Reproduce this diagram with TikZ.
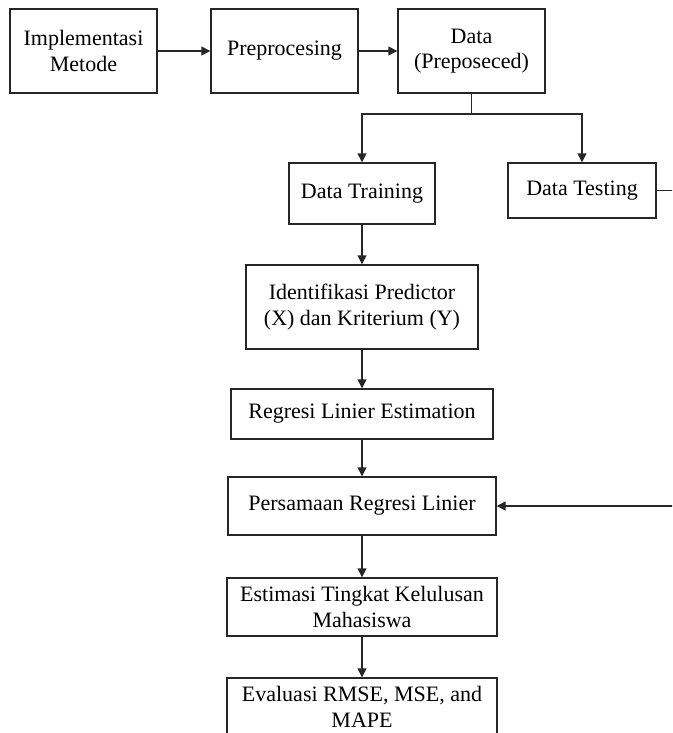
\documentclass[tikz,border=0pt]{standalone}
\usepackage{fontspec}
\setmainfont{Liberation Serif}
\usetikzlibrary{arrows.meta}
\begin{document}
\begin{tikzpicture}[x=1pt,y=-1pt,
  box/.style={draw=black!85, line width=1.4pt, align=center, inner sep=0pt,
              font=\fontsize{22}{25.5}\selectfont},
  arr/.style={draw=black!85, line width=1.4pt, -{Triangle[length=9pt,width=9pt]}},
  ln/.style={draw=black!85, line width=1.4pt}]
\useasboundingbox (0,0) rectangle (672,733);
\clip (0,0) rectangle (672,733);
\node[box, minimum width=147pt, minimum height=84pt] (impl) at (83.5,51) {Implementasi\\Metode};
\node[box, minimum width=147pt, minimum height=84pt] (prep) at (284.5,51) {Preprocesing};
\node[box, minimum width=147pt, minimum height=84pt] (data) at (471.5,51) {Data\\(Preposeced)};
\node[box, minimum width=146pt, minimum height=61pt] (train) at (362,193.5) {Data Training};
\node[box, minimum width=148pt, minimum height=55pt] (test) at (582,190.5) {Data Testing};
\node[box, minimum width=232pt, minimum height=84pt] (ident) at (362,307) {Identifikasi Predictor\\(X) dan Kriterium (Y)};
\node[box, minimum width=262pt, minimum height=50pt] (rle) at (362,414) {Regresi Linier Estimation};
\node[box, minimum width=268pt, minimum height=58pt] (pers) at (362,506) {Persamaan Regresi Linier};
\node[box, minimum width=270pt, minimum height=58pt] (est) at (362,607) {Estimasi Tingkat Kelulusan\\Mahasiswa};
\node[box, minimum width=270pt, minimum height=58pt] (eval) at (362,707) {Evaluasi RMSE, MSE, and\\MAPE};
\coordinate (br) at (471.5,114);
\draw[arr] (impl) -- (prep);
\draw[arr] (prep) -- (data);
\draw[ln] (data.south) -- (br);
\draw[arr] (br) -| (train.north);
\draw[arr] (br) -| (test.north);
\draw[arr] (train) -- (ident);
\draw[arr] (ident) -- (rle);
\draw[arr] (rle) -- (pers);
\draw[arr] (pers) -- (est);
\draw[arr] (est) -- (eval);
\draw[arr] (test.east) -- ++(40,0) |- (pers.east);
\end{tikzpicture}
\end{document}
